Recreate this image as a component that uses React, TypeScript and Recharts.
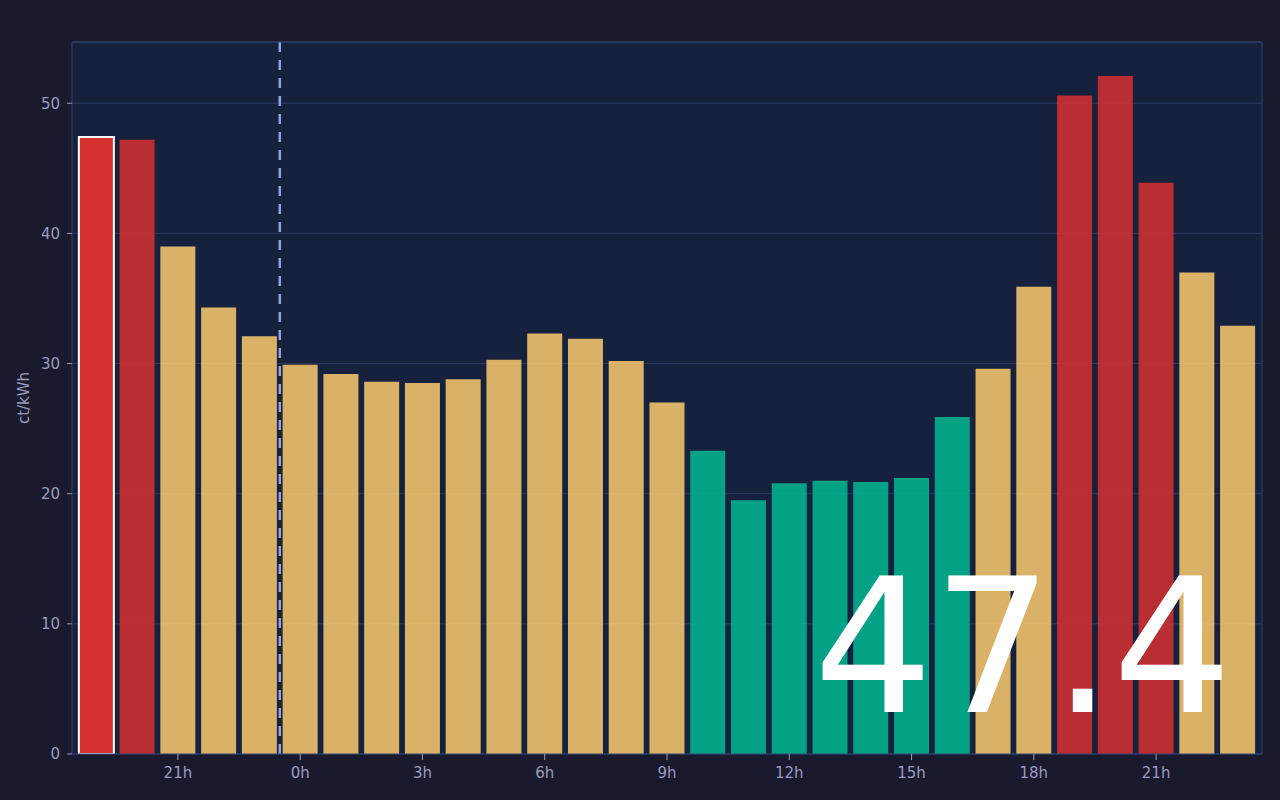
import React from 'react';
import {
  BarChart,
  Bar,
  XAxis,
  YAxis,
  CartesianGrid,
  ReferenceLine,
  Cell,
} from 'recharts';

const hourLabels = [
  '19h', '20h', '21h', '22h', '23h',
  '0h', '1h', '2h', '3h', '4h', '5h', '6h', '7h', '8h', '9h', '10h', '11h',
  '12h', '13h', '14h', '15h', '16h', '17h', '18h', '19h', '20h', '21h', '22h', '23h',
];

const prices = [
  47.4, 47.2, 39.0, 34.3, 32.1,
  29.9, 29.2, 28.6, 28.5, 28.8, 30.3, 32.3, 31.9, 30.2, 27.0, 23.3, 19.5,
  20.8, 21.0, 20.9, 21.2, 25.9, 29.6, 35.9, 50.6, 52.1, 43.9, 37.0, 32.9,
];

const xTickIndices = [2, 5, 8, 11, 14, 17, 20, 23, 26];
const yTicks = [0, 10, 20, 30, 40, 50];
const currentIndex = 0;
const midnightBoundary = 4.5;
const lowThreshold = 26;
const highThreshold = 40;

const data = prices.map((price, idx) => ({ idx, hour: hourLabels[idx], price }));

const RED = '#d63031';
const YELLOW = '#fdcb6e';
const GREEN = '#00b894';
const TICK = '#9b9bbd';
const BORDER = '#2f4270';

const colorFor = (v: number) => (v < lowThreshold ? GREEN : v >= highThreshold ? RED : YELLOW);

export default function App() {
  return (
    <div
      style={{
        position: 'fixed',
        left: 0,
        top: 0,
        width: 1280,
        height: 800,
        background: '#1a1a2e',
        fontFamily: 'DejaVu Sans',
      }}
    >
      <BarChart
        width={1280}
        height={800}
        data={data}
        margin={{ top: 0, right: 0, bottom: 0, left: 0 }}
        barCategoryGap="7%"
      >
        <CartesianGrid
          vertical={false}
          stroke="#2b3960"
          fill="#16213e"
          fillOpacity={1}
        />
        <XAxis
          dataKey="idx"
          type="category"
          ticks={xTickIndices}
          tickFormatter={(i: number) => hourLabels[i]}
          height={46}
          padding={{ left: 4, right: 4 }}
          tick={{ fill: TICK, fontSize: 15 }}
          tickLine={{ stroke: TICK }}
          tickSize={6}
          tickMargin={7}
          axisLine={{ stroke: BORDER }}
          interval={0}
        />
        <XAxis
          xAxisId="num"
          dataKey="idx"
          type="number"
          orientation="top"
          domain={[-0.5, 28.5]}
          allowDataOverflow
          padding={{ left: 4, right: 4 }}
          height={42}
          tick={false}
          tickLine={false}
          axisLine={{ stroke: BORDER }}
        />
        <YAxis
          width={72}
          domain={[0, (dataMax: number) => dataMax * 1.05]}
          ticks={yTicks}
          allowDataOverflow
          tick={{ fill: TICK, fontSize: 15 }}
          tickLine={{ stroke: TICK }}
          tickSize={5}
          tickMargin={7}
          axisLine={{ stroke: BORDER }}
          label={{
            value: 'ct/kWh',
            angle: -90,
            position: 'center',
            dx: -12,
            fill: TICK,
            fontSize: 15,
          }}
        />
        <YAxis
          yAxisId="right"
          orientation="right"
          width={18}
          tick={false}
          tickLine={false}
          axisLine={{ stroke: BORDER }}
        />
        <Bar dataKey="price" isAnimationActive={false}>
          {data.map((d, i) => (
            <Cell
              key={i}
              fill={i === currentIndex ? RED : colorFor(d.price)}
              fillOpacity={i === currentIndex ? 1 : 0.85}
              stroke={i === currentIndex ? '#ffffff' : 'none'}
              strokeWidth={i === currentIndex ? 2 : 0}
            />
          ))}
        </Bar>
        <ReferenceLine
          xAxisId="num"
          x={midnightBoundary}
          stroke="#90a4e0"
          strokeWidth={2.5}
          strokeDasharray="10 8"
        />
      </BarChart>
      <svg
        width={1280}
        height={800}
        style={{ position: 'absolute', left: 0, top: 0, pointerEvents: 'none' }}
      >
        <text
          x={1232}
          y={712}
          textAnchor="end"
          fill="#ffffff"
          fontSize={188}
          fontFamily="DejaVu Sans"
        >
          {prices[currentIndex].toFixed(1)}
        </text>
      </svg>
    </div>
  );
}
